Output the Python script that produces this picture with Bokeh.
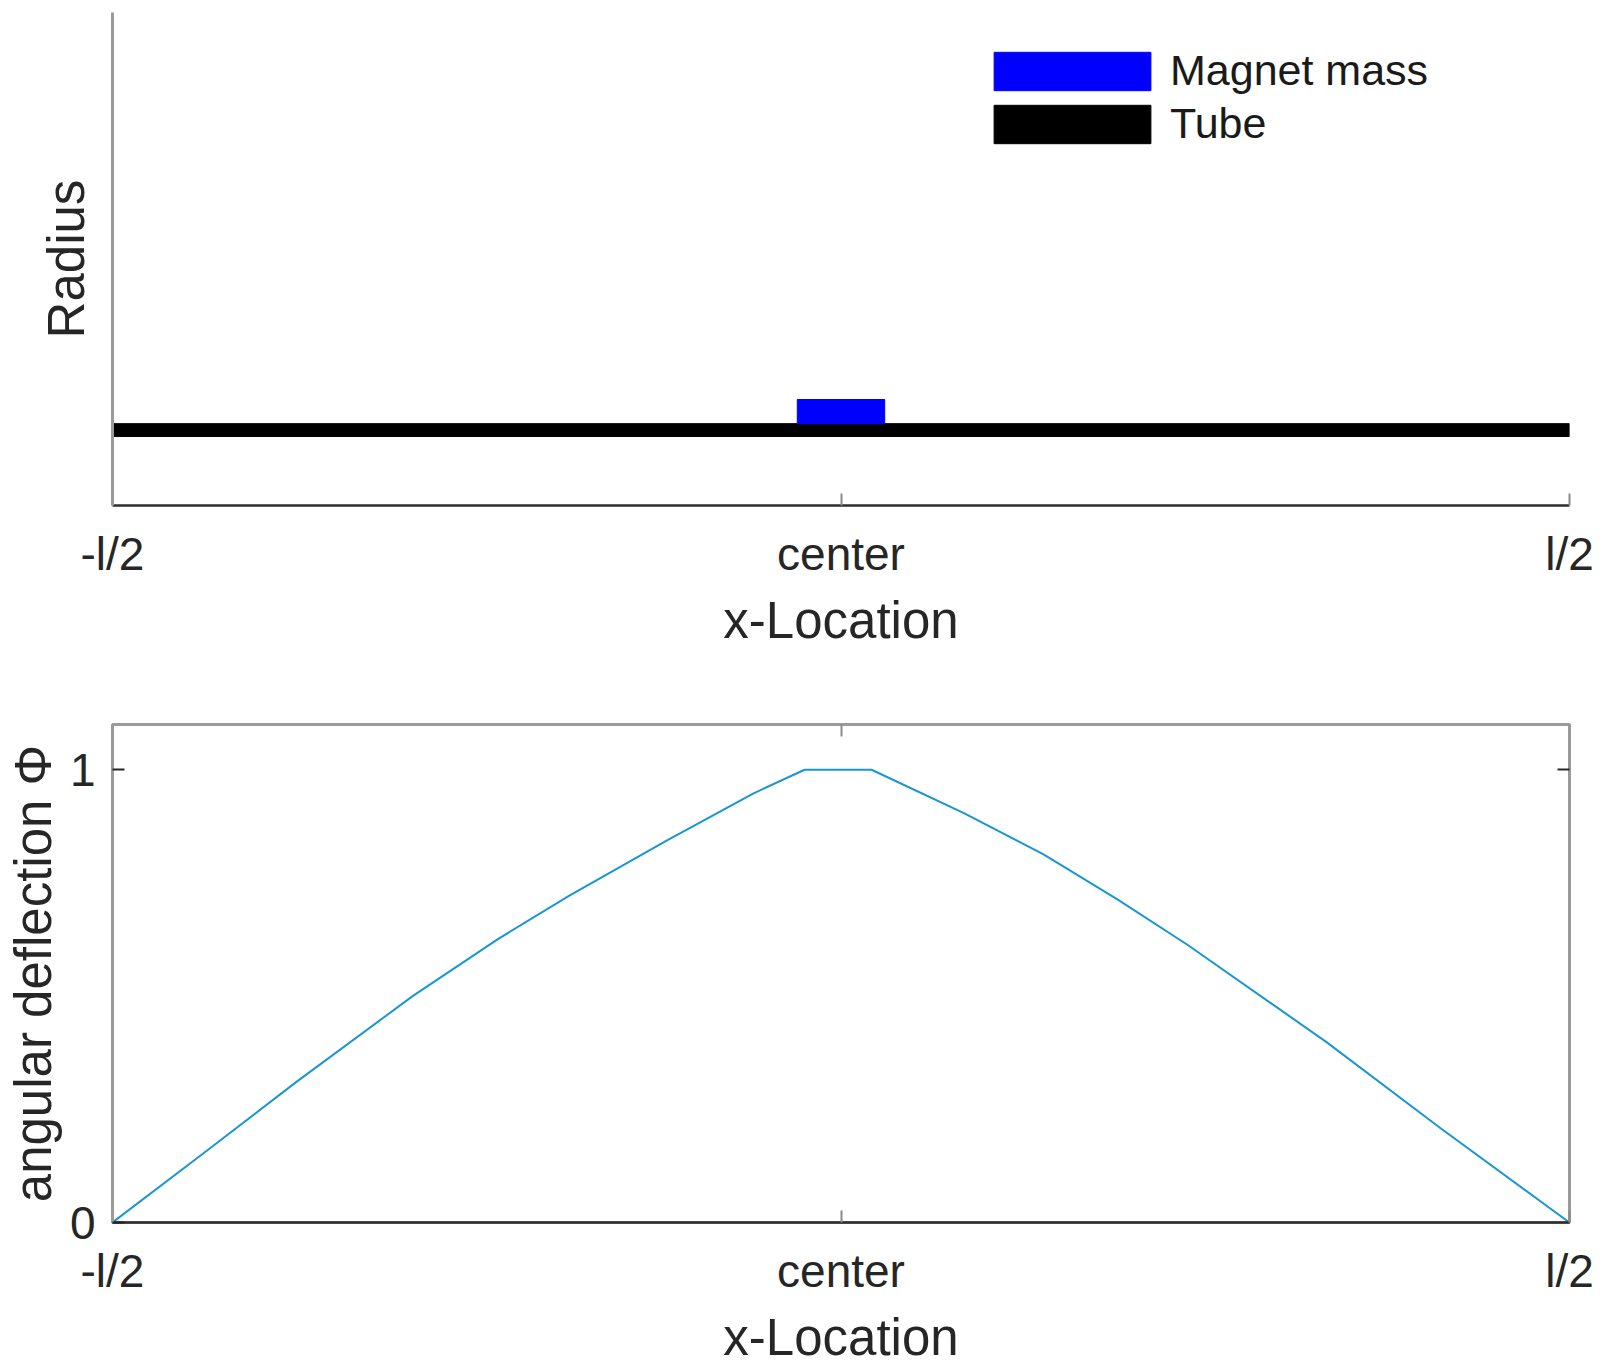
from bokeh.plotting import figure
from bokeh.models import Range1d, FixedTicker, LinearAxis, Legend, LegendItem, ColumnDataSource
from bokeh.layouts import column
from bokeh.embed import file_html
from bokeh.resources import INLINE

# ---------------- data ----------------
x_ticks = [-0.5, 0.0, 0.5]
x_tick_labels = ["-l/2", "center", "l/2"]

tube_x = [-0.5, 0.5]
tube_r = [0.14, 0.166]
magnet_x = [-0.03, 0.03]
magnet_r = [0.166, 0.215]

pos = [-0.5, -0.438, -0.374, -0.294, -0.236, -0.187, -0.120, -0.060, -0.025,
       0.021, 0.084, 0.139, 0.190, 0.238, 0.333, 0.412, 0.5]
phi = [0.0, 0.152, 0.310, 0.500, 0.625, 0.721, 0.843, 0.948, 1.0,
       1.0, 0.905, 0.813, 0.713, 0.613, 0.399, 0.207, 0.0]

phi_ticks = [0, 1]

# ---------------- style ----------------
FONT = "Liberation Sans"
TXT = "#262626"
TICK_FS = "46px"
LABEL_FS = "51px"

def style_x(ax, tick_standoff, label_standoff):
    ax.ticker = FixedTicker(ticks=x_ticks)
    ax.major_label_overrides = {t: l for t, l in zip(x_ticks, x_tick_labels)}
    ax.major_tick_in = 12
    ax.major_tick_out = 0
    ax.minor_tick_line_color = None
    ax.major_tick_line_color = "#8a8a8a"
    ax.major_tick_line_width = 2
    ax.axis_line_color = "#2e2e2e"
    ax.axis_line_width = 2.5
    ax.major_label_text_font = FONT
    ax.major_label_text_font_size = TICK_FS
    ax.major_label_text_color = TXT
    ax.major_label_standoff = tick_standoff
    ax.axis_label = "x-Location"
    ax.axis_label_text_font = FONT
    ax.axis_label_text_font_size = LABEL_FS
    ax.axis_label_text_font_style = "normal"
    ax.axis_label_text_color = TXT
    ax.axis_label_standoff = label_standoff

# ---------------- top plot ----------------
p1 = figure(frame_width=1457, frame_height=493,
            x_range=Range1d(-0.5, 0.5), y_range=Range1d(0, 1),
            output_backend="svg", toolbar_location=None,
            min_border_left=112, min_border_right=34,
            min_border_top=12, min_border_bottom=145)
p1.grid.visible = False
p1.outline_line_color = None

src_tube = ColumnDataSource(dict(l=[tube_x[0]], r=[tube_x[1]], b=[tube_r[0]], t=[tube_r[1]]))
src_mag = ColumnDataSource(dict(l=[magnet_x[0]], r=[magnet_x[1]], b=[magnet_r[0]], t=[magnet_r[1]]))
r_tube = p1.quad(left="l", right="r", bottom="b", top="t", source=src_tube,
                 fill_color="black", line_color="black", line_width=1)
r_mag = p1.quad(left="l", right="r", bottom="b", top="t", source=src_mag,
                fill_color="#0000ff", line_color="#0000ff", line_width=1)

style_x(p1.xaxis[0], 22, 9)
ya = p1.yaxis[0]
ya.ticker = FixedTicker(ticks=[])
ya.minor_tick_line_color = None
ya.axis_line_color = "#9a9a9a"
ya.axis_line_width = 3
ya.axis_label = "Radius"
ya.axis_label_text_font = FONT
ya.axis_label_text_font_size = LABEL_FS
ya.axis_label_text_font_style = "normal"
ya.axis_label_text_color = TXT
ya.axis_label_standoff = 18

legend = Legend(items=[LegendItem(label="Magnet mass", renderers=[r_mag]),
                       LegendItem(label="Tube", renderers=[r_tube])],
                location=(862, 357), glyph_width=196, glyph_height=48,
                label_text_font=FONT, label_text_font_size="43px",
                label_text_color="#1a1a1a", label_standoff=-9,
                padding=0, margin=0, spacing=4,
                border_line_color=None, background_fill_alpha=0)
p1.add_layout(legend)

# ---------------- bottom plot ----------------
p2 = figure(frame_width=1457, frame_height=498,
            x_range=Range1d(-0.5, 0.5), y_range=Range1d(0, 1.1),
            output_backend="svg", toolbar_location=None,
            min_border_left=112, min_border_right=34,
            min_border_top=73, min_border_bottom=145)
p2.grid.visible = False
p2.outline_line_color = "#9a9a9a"
p2.outline_line_width = 3

p2.line(pos, phi, line_color="#1a96d4", line_width=2)

style_x(p2.xaxis[0], 22, 9)
yb = p2.yaxis[0]
yb.ticker = FixedTicker(ticks=phi_ticks)
yb.major_tick_in = 12
yb.major_tick_out = 0
yb.minor_tick_line_color = None
yb.major_tick_line_color = "#262626"
yb.major_tick_line_width = 2
yb.axis_line_color = "#9a9a9a"
yb.axis_line_width = 3
yb.major_label_text_font = FONT
yb.major_label_text_font_size = TICK_FS
yb.major_label_text_color = TXT
yb.major_label_standoff = 17
yb.axis_label = "angular deflection \u03a6"
yb.axis_label_text_font = FONT
yb.axis_label_text_font_size = LABEL_FS
yb.axis_label_text_font_style = "normal"
yb.axis_label_text_color = TXT
yb.axis_label_standoff = 5

ax_top = LinearAxis(ticker=FixedTicker(ticks=[0.0]), major_label_overrides={0.0: ""},
                    axis_line_color=None, major_tick_in=12, major_tick_out=0,
                    major_tick_line_color="#8a8a8a", major_tick_line_width=2,
                    minor_tick_line_color=None)
p2.add_layout(ax_top, "above")
ax_right = LinearAxis(ticker=FixedTicker(ticks=[1.0]), major_label_overrides={1.0: ""},
                      axis_line_color=None, major_tick_in=12, major_tick_out=0,
                      major_tick_line_color="#262626", major_tick_line_width=2,
                      minor_tick_line_color=None)
p2.add_layout(ax_right, "right")

layout = column(p1, p2, spacing=0)
open("out.html", "w").write(file_html(layout, INLINE))
